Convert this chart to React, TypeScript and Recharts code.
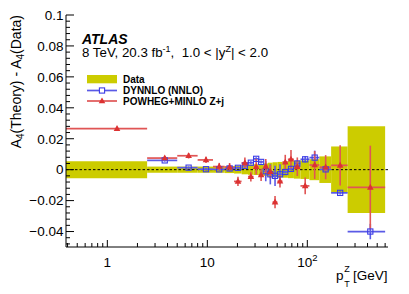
import React from 'react';
import {
  ComposedChart,
  XAxis,
  YAxis,
  Scatter,
  ErrorBar,
  ReferenceArea,
  ReferenceLine,
} from 'recharts';

// pT(Z) bin edges [GeV]
const binEdges = [0, 2.5, 5, 8, 11.4, 14.9, 18.5, 22, 25.5, 29, 32.6, 36.4, 40.4, 44.9, 50.2, 56.4, 63.9, 73.4, 85.4, 105, 132, 173, 253, 600];
// Data total uncertainty (half width of band) per bin
const dataUncertainty = [0.0055, 0.002, 0.002, 0.002, 0.002, 0.0022, 0.0025, 0.003, 0.0033, 0.0035, 0.0037, 0.004, 0.0045, 0.0048, 0.005, 0.0052, 0.0055, 0.0058, 0.006, 0.0068, 0.0086, 0.015, 0.028];
// POWHEG+MINLO Z+j : A4(theory) - A4(data)
const powhegValues = [0.0265, 0.0075, 0.009, 0.0063, 0.002, 0.0016, -0.0076, 0.0044, -0.0045, 0.0019, -0.0034, 0.0021, -0.0013, -0.021, -0.0075, 0.0048, 0.0067, 0.0019, -0.0105, 0.003, 0.0016, 0.0028, -0.0115];
const powhegErrors = [0.0012, 0.0012, 0.0018, 0.002, 0.0024, 0.0027, 0.003, 0.0034, 0.0032, 0.005, 0.004, 0.0048, 0.0043, 0.004, 0.004, 0.0048, 0.006, 0.006, 0.0054, 0.009, 0.0078, 0.013, 0.027];
// DYNNLO (NNLO) : A4(theory) - A4(data)  (no prediction in first bin)
const dynnloValues = [null, 0.006, 0.0013, 0.0003, 0.0002, 0.0008, 0.0012, 0.0025, 0.0045, 0.007, 0.005, -0.001, -0.003, -0.004, -0.003, -0.0015, 0.0005, 0.004, 0.0067, 0.0078, 0.0002, -0.015, -0.04];
const dynnloErrors = [0, 0.0008, 0.0008, 0.0008, 0.0008, 0.0008, 0.0008, 0.0008, 0.001, 0.001, 0.001, 0.0065, 0.0065, 0.0065, 0.0065, 0.001, 0.001, 0.0015, 0.002, 0.0045, 0.001, 0.001, 0.005];

const X_MIN = 0.386;
const X_MAX = 641;
const Y_MIN = -0.05;
const Y_MAX = 0.1;

const xMajorTicks = [1, 10, 100];
const xMinorTicks = [0.4, 0.5, 0.6, 0.7, 0.8, 0.9, 2, 3, 4, 5, 6, 7, 8, 9, 20, 30, 40, 50, 60, 70, 80, 90, 200, 300, 400, 500, 600];
const yMajorTicks = [-0.04, -0.02, 0, 0.02, 0.04, 0.06, 0.08, 0.1];
const yMinorStep = 0.004;

const BAND = '#cccc00';
const RED = '#dc3232';
const RED_LINE = '#e05555';
const BLUE = '#3c3ce6';
const BLUE_LINE = '#5a5ae6';
const FONT = '"Liberation Sans", Arial, Helvetica, sans-serif';

const bins = binEdges.slice(0, -1).map((lo, i) => ({ lo, hi: binEdges[i + 1] }));

const powhegData = bins.map((b, i) => {
  const x = (b.lo + b.hi) / 2;
  const lo = Math.max(b.lo, X_MIN);
  return { x, y: powhegValues[i], yErr: powhegErrors[i], xErr: [x - lo, b.hi - x] };
});

const dynnloData = bins
  .map((b, i) => {
    const x = (b.lo + b.hi) / 2;
    const lo = Math.max(b.lo, X_MIN);
    return { x, y: dynnloValues[i], yErr: dynnloErrors[i], xErr: [x - lo, b.hi - x] };
  })
  .filter((d) => d.y !== null);

const xTicks = [...xMinorTicks, ...xMajorTicks].sort((a, b) => a - b);
const yTicks: number[] = [];
for (let k = Math.ceil(Y_MIN / yMinorStep); k * yMinorStep <= Y_MAX + 1e-9; k++) {
  yTicks.push(Math.round(k * yMinorStep * 1000) / 1000);
}
const isMajorX = (v: number) => xMajorTicks.some((t) => Math.abs(t - v) < 1e-9);
const isMajorY = (v: number) => yMajorTicks.some((t) => Math.abs(t - v) < 1e-9);

const fmtY = (v: number) => (Math.abs(v) < 1e-12 ? '0' : String(v).replace('-', '\u2212'));

const BottomTick = (props: any) => {
  const { x, y, payload } = props;
  const v = payload.value;
  const major = isMajorX(v);
  return (
    <g>
      <line x1={x} x2={x} y1={y} y2={y - (major ? 7 : 4)} stroke="#000" strokeWidth={1} />
      {major && (
        <text x={x} y={y + 19.8} textAnchor="middle" fontFamily={FONT} fontSize={13.5} fill="#000">
          {v >= 100 ? (
            <>
              <tspan>10</tspan>
              <tspan dy={-6} fontSize={9.5}>2</tspan>
            </>
          ) : (
            String(v)
          )}
        </text>
      )}
    </g>
  );
};

const TopTick = (props: any) => {
  const { x, y, payload } = props;
  const major = isMajorX(payload.value);
  return <line x1={x} x2={x} y1={y} y2={y + (major ? 7 : 4)} stroke="#000" strokeWidth={1} />;
};

const LeftTick = (props: any) => {
  const { x, y, payload } = props;
  const v = payload.value;
  const major = isMajorY(v);
  return (
    <g>
      <line x1={x} x2={x + (major ? 8 : 4)} y1={y} y2={y} stroke="#000" strokeWidth={1} />
      {major && (
        <text x={x - 2.5} y={y + 4.8} textAnchor="end" fontFamily={FONT} fontSize={13.5} fill="#000">
          {fmtY(v)}
        </text>
      )}
    </g>
  );
};

const RightTick = (props: any) => {
  const { x, y, payload } = props;
  const major = isMajorY(payload.value);
  return <line x1={x} x2={x - (major ? 8 : 4)} y1={y} y2={y} stroke="#000" strokeWidth={1} />;
};

const Triangle = (props: any) => {
  const { cx, cy } = props;
  if (cx == null || cy == null) return <g />;
  return <polygon points={`${cx},${cy - 3.6} ${cx - 3.3},${cy + 2.3} ${cx + 3.3},${cy + 2.3}`} fill={RED} />;
};

const OpenSquare = (props: any) => {
  const { cx, cy } = props;
  if (cx == null || cy == null) return <g />;
  return <rect x={cx - 2.6} y={cy - 2.6} width={5.2} height={5.2} fill="none" stroke={BLUE} strokeWidth={1.1} />;
};

export default function App() {
  return (
    <div style={{ position: 'absolute', left: 0, top: 0, width: 409, height: 294, background: '#fff' }}>
      <ComposedChart width={409} height={294} margin={{ top: 15, right: 21, bottom: 0, left: 0 }}>
        <XAxis
          type="number"
          dataKey="x"
          scale="log"
          domain={[X_MIN, X_MAX]}
          allowDataOverflow
          ticks={xTicks}
          interval={0}
          tick={BottomTick}
          tickLine={false}
          tickSize={0}
          tickMargin={0}
          height={47}
          axisLine={{ stroke: '#000', strokeWidth: 1 }}
        />
        <XAxis
          xAxisId="top"
          orientation="top"
          type="number"
          scale="log"
          domain={[X_MIN, X_MAX]}
          allowDataOverflow
          ticks={xTicks}
          interval={0}
          tick={TopTick}
          tickLine={false}
          tickSize={0}
          tickMargin={0}
          height={0}
          axisLine={{ stroke: '#000', strokeWidth: 1 }}
        />
        <YAxis
          type="number"
          domain={[Y_MIN, Y_MAX]}
          allowDataOverflow
          ticks={yTicks}
          interval={0}
          tick={LeftTick}
          tickLine={false}
          tickSize={0}
          tickMargin={0}
          width={66}
          axisLine={{ stroke: '#000', strokeWidth: 1 }}
        />
        <YAxis
          yAxisId="right"
          orientation="right"
          type="number"
          domain={[Y_MIN, Y_MAX]}
          allowDataOverflow
          ticks={yTicks}
          interval={0}
          tick={RightTick}
          tickLine={false}
          tickSize={0}
          tickMargin={0}
          width={0}
          axisLine={{ stroke: '#000', strokeWidth: 1 }}
        />
        {bins.map((b, i) => (
          <ReferenceArea
            key={`band-${i}`}
            x1={Math.max(b.lo, X_MIN)}
            x2={b.hi}
            y1={-dataUncertainty[i]}
            y2={dataUncertainty[i]}
            fill={BAND}
            fillOpacity={1}
            stroke="none"
            ifOverflow="hidden"
          />
        ))}
        <ReferenceLine y={0} stroke="#000" strokeWidth={1} strokeDasharray="2.5 2" />
        <Scatter data={dynnloData} dataKey="y" shape={OpenSquare} isAnimationActive={false}>
          <ErrorBar dataKey="xErr" direction="x" width={0} stroke={BLUE_LINE} strokeWidth={1.7} />
          <ErrorBar dataKey="yErr" direction="y" width={0} stroke={BLUE_LINE} strokeWidth={1.6} />
        </Scatter>
        <Scatter data={powhegData} dataKey="y" shape={Triangle} isAnimationActive={false}>
          <ErrorBar dataKey="xErr" direction="x" width={0} stroke={RED_LINE} strokeWidth={1.7} />
          <ErrorBar dataKey="yErr" direction="y" width={0} stroke={RED_LINE} strokeWidth={1.6} />
        </Scatter>
      </ComposedChart>
      <svg
        width={409}
        height={294}
        style={{ position: 'absolute', left: 0, top: 0, pointerEvents: 'none' }}
        fontFamily={FONT}
      >
        <text x={82} y={43.5} fontSize={14} fontWeight="bold" fontStyle="italic" fill="#000">ATLAS</text>
        <text x={82} y={57} fontSize={13.3} fill="#000" style={{ whiteSpace: 'pre' }}>
          <tspan>8 TeV, 20.3 fb</tspan>
          <tspan dy={-5} fontSize={9}>-1</tspan>
          <tspan dy={5}>{',  1.0 < |y'}</tspan>
          <tspan dy={-5} fontSize={9}>Z</tspan>
          <tspan dy={5}>{'| < 2.0'}</tspan>
        </text>
        {/* legend */}
        <rect x={87} y={75} width={30} height={8.3} fill={BAND} />
        <text x={123} y={82.5} fontSize={10} fontWeight="bold" fill="#000">Data</text>
        <line x1={87} x2={117} y1={90.5} y2={90.5} stroke={BLUE_LINE} strokeWidth={1.7} />
        <rect x={99.4} y={87.9} width={5.2} height={5.2} fill="#fff" stroke={BLUE} strokeWidth={1.1} />
        <text x={123} y={94} fontSize={10} fontWeight="bold" fill="#000">DYNNLO (NNLO)</text>
        <line x1={87} x2={117} y1={101} y2={101} stroke={RED_LINE} strokeWidth={1.7} />
        <polygon points="102,97.4 98.7,103.3 105.3,103.3" fill={RED} />
        <text x={123} y={105} fontSize={10} fontWeight="bold" fill="#000">POWHEG+MINLO Z+j</text>
        {/* y axis title */}
        <text x={20.5} y={15} fontSize={14} textAnchor="end" transform="rotate(-90 20.5 15)" fill="#000">
          <tspan>A</tspan>
          <tspan dy={3} fontSize={10}>4</tspan>
          <tspan dy={-3}>(Theory) - A</tspan>
          <tspan dy={3} fontSize={10}>4</tspan>
          <tspan dy={-3}>(Data)</tspan>
        </text>
        {/* x axis title */}
        <text fontSize={13.5} fill="#000">
          <tspan x={336} y={280}>p</tspan>
          <tspan x={344.3} y={286.5} fontSize={9}>T</tspan>
          <tspan x={344.3} y={272} fontSize={9}>Z</tspan>
          <tspan x={353} y={280}>[GeV]</tspan>
        </text>
      </svg>
    </div>
  );
}
